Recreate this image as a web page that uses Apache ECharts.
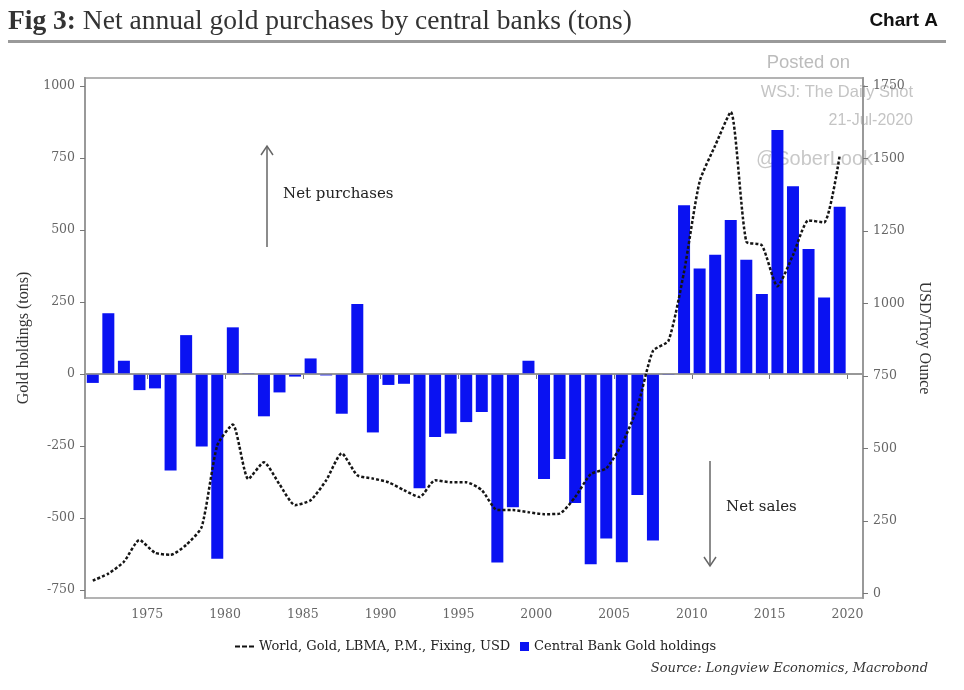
<!DOCTYPE html>
<html>
<head>
<meta charset="utf-8">
<script src="https://cdn.jsdelivr.net/npm/echarts@6/dist/echarts.min.js"></script>
<style>
  html, body { margin: 0; padding: 0; background: #fff; }
  #chart { width: 964px; height: 690px; }
</style>
</head>
<body>
<div id="chart"></div>
<script>
// years of the bars / price points
const years = [
  1971, 1972, 1973, 1974, 1975, 1976, 1977, 1978, 1979, 1980,
  1981, 1982, 1983, 1984, 1985, 1986, 1987, 1988, 1989, 1990,
  1991, 1992, 1993, 1994, 1995, 1996, 1997, 1998, 1999, 2000,
  2001, 2002, 2003, 2004, 2005, 2006, 2007, 2008, 2009, 2010,
  2011, 2012, 2013, 2014, 2015, 2016, 2017, 2018, 2019
]

// net central bank purchases, tons
const holdings = [
  -31, 211, 46, -56, -50, -335, 135, -252, -642, 162,
  3, -147, -64, -9, 54, -5, -138, 243, -203, -38,
  -34, -397, -219, -207, -167, -132, -655, -463, 46, -365,
  -295, -448, -661, -571, -654, -420, -578, -3, 586, 366,
  414, 535, 397, 278, 847, 652, 434, 266, 581
]

// gold price, USD/troy ounce (year end)
const goldPrice = [
  45, 69, 110, 185, 141, 134, 168, 230, 511, 583,
  395, 453, 377, 305, 322, 391, 484, 408, 397, 384,
  357, 333, 391, 384, 384, 357, 288, 288, 281, 274,
  276, 333, 412, 432, 515, 642, 837, 872, 1110, 1421,
  1545, 1661, 1214, 1201, 1060, 1167, 1287, 1280, 1510
]

const xTicks = [1975, 1980, 1985, 1990, 1995, 2000, 2005, 2010, 2015, 2020]
const leftTicks = [-750, -500, -250, 0, 250, 500, 750, 1000]
const rightTicks = [0, 250, 500, 750, 1000, 1250, 1500, 1750]

const priceName = 'World, Gold, LBMA, P.M., Fixing, USD'
const barName = 'Central Bank Gold holdings'

const serif = '"DejaVu Serif", serif'
const labelStyle = { color: '#666', fontFamily: serif, fontSize: 12.5 }

const chart = echarts.init(document.getElementById('chart'), null, { renderer: 'canvas' })

chart.setOption({
  animation: false,
  backgroundColor: '#fff',
  grid: {
    left: 85,
    right: 101,
    top: 78,
    bottom: 92,
    show: true,
    borderColor: '#b3b3b3',
    borderWidth: 2
  },
  legend: [
    {
      data: [{ name: priceName, icon: 'path://M0,0h5v2h-5z M7,0h5v2h-5z M14,0h5v2h-5z' }],
      left: 230,
      top: 635,
      itemWidth: 19,
      itemHeight: 10,
      itemStyle: { color: '#111' },
      textStyle: { color: '#222', fontFamily: serif, fontSize: 13 }
    },
    {
      data: [{ name: barName, icon: 'rect' }],
      left: 515,
      top: 635,
      itemWidth: 9,
      itemHeight: 9,
      textStyle: { color: '#222', fontFamily: serif, fontSize: 13 }
    }
  ],
  xAxis: {
    type: 'value',
    min: 1971,
    max: 2021,
    splitLine: { show: false },
    axisLine: { lineStyle: { color: '#999', width: 2 } },
    axisTick: { customValues: xTicks, length: 5, lineStyle: { color: '#777' } },
    axisLabel: {
      customValues: xTicks,
      margin: 10,
      formatter: (v) => String(v),
      ...labelStyle
    }
  },
  yAxis: [
    {
      type: 'value',
      min: -778,
      max: 1028,
      name: 'Gold holdings (tons)',
      nameLocation: 'middle',
      nameGap: 46,
      nameTextStyle: { color: '#333', fontFamily: '"Liberation Serif", serif', fontSize: 16 },
      splitLine: { show: false },
      axisLine: { show: true, lineStyle: { color: '#999', width: 2 } },
      axisTick: { show: true, customValues: leftTicks, length: 5, lineStyle: { color: '#777' } },
      axisLabel: {
        customValues: leftTicks,
        margin: 10,
        formatter: (v) => String(v),
        ...labelStyle
      }
    },
    {
      type: 'value',
      position: 'right',
      min: -15,
      max: 1778,
      name: 'USD/Troy Ounce',
      nameLocation: 'middle',
      nameGap: 49,
      nameRotate: -90,
      nameTextStyle: { color: '#333', fontFamily: '"Liberation Serif", serif', fontSize: 16 },
      splitLine: { show: false },
      axisLine: { show: true, lineStyle: { color: '#999', width: 2 } },
      axisTick: { show: true, customValues: rightTicks, length: 5, lineStyle: { color: '#777' } },
      axisLabel: {
        customValues: rightTicks,
        margin: 10,
        formatter: (v) => String(v),
        ...labelStyle
      }
    }
  ],
  series: [
    {
      name: barName,
      type: 'bar',
      yAxisIndex: 0,
      barWidth: 12,
      itemStyle: { color: '#0a12f2' },
      data: years.map((y, i) => [y + 0.5, holdings[i]]),
      markLine: {
        silent: true,
        symbol: 'none',
        label: { show: false },
        lineStyle: { color: '#999', width: 1.5, type: 'solid' },
        data: [{ yAxis: 0 }]
      }
    },
    {
      name: priceName,
      type: 'line',
      yAxisIndex: 1,
      symbol: 'none',
      smooth: 0.2,
      z: 5,
      lineStyle: { color: '#151515', width: 2.5, type: [3, 2] },
      itemStyle: { color: '#151515' },
      data: years.map((y, i) => [y + 0.5, goldPrice[i]])
    }
  ],
  graphic: [
    // title
    {
      type: 'text',
      left: 8,
      top: 8,
      style: {
        text: '{b|Fig 3:} Net annual gold purchases by central banks (tons)',
        fill: '#333',
        font: '27.5px "Liberation Serif", serif',
        rich: {
          b: { fontWeight: 'bold', fontSize: 27.5, fontFamily: '"Liberation Serif", serif', fill: '#333' }
        }
      }
    },
    {
      type: 'text',
      right: 26,
      top: 11,
      style: { text: 'Chart A', fill: '#111', font: 'bold 19px "Liberation Sans", Arial, sans-serif' }
    },
    {
      type: 'rect',
      shape: { x: 8, y: 40, width: 938, height: 3 },
      style: { fill: '#9a9a9a' }
    },
    // annotations
    {
      type: 'group',
      children: [
        { type: 'line', shape: { x1: 267, y1: 247, x2: 267, y2: 146 }, style: { stroke: '#666', lineWidth: 1.5 } },
        { type: 'polyline', shape: { points: [[261, 155], [267, 146], [273, 155]] }, style: { stroke: '#666', lineWidth: 1.5, fill: null } },
        { type: 'text', x: 283, y: 194, style: { text: 'Net purchases', fill: '#222', font: '15px "DejaVu Serif", serif', verticalAlign: 'middle' } },
        { type: 'line', shape: { x1: 710, y1: 461, x2: 710, y2: 566 }, style: { stroke: '#666', lineWidth: 1.5 } },
        { type: 'polyline', shape: { points: [[704, 557], [710, 566], [716, 557]] }, style: { stroke: '#666', lineWidth: 1.5, fill: null } },
        { type: 'text', x: 726, y: 507, style: { text: 'Net sales', fill: '#222', font: '15px "DejaVu Serif", serif', verticalAlign: 'middle' } }
      ]
    },
    // source
    {
      type: 'text',
      right: 36,
      top: 662,
      style: { text: 'Source: Longview Economics, Macrobond', fill: '#333', font: 'italic 13px "DejaVu Serif", serif' }
    },
    // watermark
    {
      type: 'group',
      z: 100,
      silent: true,
      children: [
        { type: 'text', x: 850, y: 63, style: { text: 'Posted on', fill: '#bcbcbc', font: '18.5px "Liberation Sans", sans-serif', align: 'right', verticalAlign: 'middle' } },
        { type: 'text', x: 913, y: 92, style: { text: 'WSJ: The Daily Shot', fill: '#c4c4c4', font: '16.5px "Liberation Sans", sans-serif', align: 'right', verticalAlign: 'middle' } },
        { type: 'text', x: 913, y: 121, style: { text: '21-Jul-2020', fill: '#c4c4c4', font: '16px "Liberation Sans", sans-serif', align: 'right', verticalAlign: 'middle' } },
        { type: 'text', x: 873, y: 159, style: { text: '@SoberLook', fill: 'rgba(190,190,190,0.85)', font: '20px "Liberation Sans", sans-serif', align: 'right', verticalAlign: 'middle' } }
      ]
    }
  ]
})
</script>
</body>
</html>
